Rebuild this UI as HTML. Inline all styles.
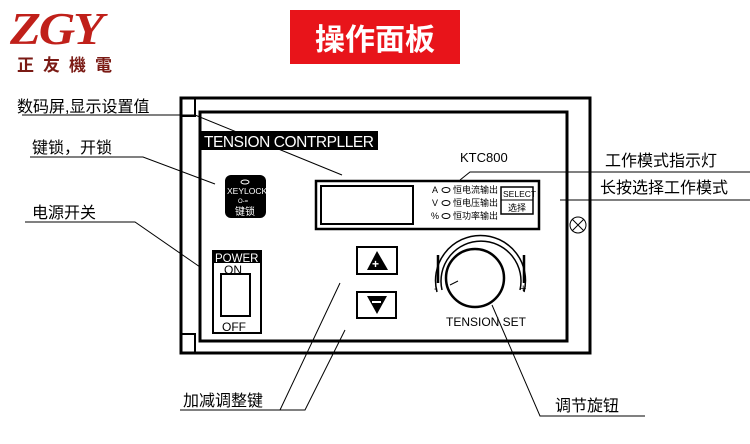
<!DOCTYPE html><html><head><meta charset="utf-8"><style>
body{margin:0;width:750px;height:444px;background:#fff;overflow:hidden;font-family:"Liberation Sans","Noto Sans CJK SC",sans-serif}
.a{position:absolute}
</style></head><body>
<div class="a" style="left:10px;top:2px;font:italic bold 46px 'Liberation Serif',serif;color:#c0201a;letter-spacing:-2px;transform:scaleX(1.1);transform-origin:left">ZGY</div>
<div class="a" style="left:17px;top:51px;font:bold 17px 'Noto Sans CJK SC',sans-serif;color:#7a1a14;letter-spacing:9px">正友機電</div>
<div class="a" style="left:290px;top:10px;width:170px;height:54px;background:#e8141a;color:#fff;font:bold 30px 'Noto Sans CJK SC',sans-serif;text-align:center;line-height:54px">操作面板</div>
<svg class="a" style="left:0;top:0" width="750" height="444" viewBox="0 0 750 444">
<g fill="none" stroke="#000">
<rect x="181" y="98" width="409" height="255" stroke-width="3"/>
<rect x="200" y="112" width="367" height="229" stroke-width="3"/>
<rect x="181" y="98" width="14" height="18" stroke-width="2"/>
<rect x="181" y="334" width="14" height="19" stroke-width="2"/>
<rect x="316" y="181" width="223" height="48" stroke-width="2.5"/>
<rect x="321" y="186" width="92" height="38" stroke-width="2"/>
<rect x="501" y="187" width="32" height="27" stroke-width="1.5"/>
<line x1="501" y1="200" x2="533" y2="200" stroke-width="1"/>
<rect x="357" y="247" width="40" height="27" stroke-width="2"/>
<rect x="357" y="292" width="39" height="26" stroke-width="2"/>
<circle cx="475" cy="278" r="29" stroke-width="2.5"/>
<path d="M442 290 A40 40 0 1 1 520 290" stroke-width="1.5"/>
<path d="M437 292 A45 45 0 1 1 524 292" stroke-width="1.5"/>
<line x1="438" y1="255" x2="438" y2="283" stroke-width="2.5"/>
<line x1="524" y1="255" x2="524" y2="283" stroke-width="2.5"/>
<line x1="450" y1="285" x2="458" y2="281" stroke-width="1"/>
<rect x="213" y="251" width="48" height="82" stroke-width="2"/>
<rect x="221" y="274" width="29" height="42" stroke-width="2"/>
<circle cx="578" cy="225" r="8" stroke-width="1"/>
<path d="M572 219l12 12M584 219l-12 12" stroke-width="1"/>
<g stroke-width="1">
<path d="M22 115H195L342 175"/>
<path d="M30 157H143L215 184"/>
<path d="M25 222H135L200 267"/>
<path d="M180 410H305L345 330M280 410L340 283"/>
<path d="M645 416H540L492 305"/>
<path d="M460 180L470 172H750"/>
<path d="M560 200H750"/>
</g></g>
<rect x="200" y="131" width="178" height="19" fill="#000"/>
<text x="204" y="147" fill="#fff" font-family="Liberation Sans" font-size="15.5" textLength="170">TENSION CONTRPLLER</text>
<text x="460" y="162" font-family="Liberation Sans" font-size="13">KTC800</text>
<g font-family="Liberation Sans,Noto Sans CJK SC,sans-serif" font-size="9">
<text x="432" y="193">A</text><text x="432" y="206">V</text><text x="431" y="219">%</text>
<text x="453" y="193">恒电流输出</text><text x="453" y="206">恒电压输出</text><text x="453" y="219">恒功率输出</text>
<text x="503" y="197" font-size="8.5">SELECT</text><text x="508" y="211">选择</text>
</g>
<g fill="none" stroke="#000"><ellipse cx="446" cy="190" rx="4" ry="2.5"/><ellipse cx="446" cy="203" rx="4" ry="2.5"/><ellipse cx="446" cy="216" rx="4" ry="2.5"/></g>
<path d="M377 251L367 270H388Z"/><path d="M367 296H387L377 314Z"/>
<text x="372" y="268" fill="#fff" font-size="12" font-weight="bold" font-family="Liberation Sans">+</text>
<rect x="372" y="301" width="9" height="2" fill="#fff"/>
<text x="434" y="292" font-size="11" font-family="Liberation Sans">-</text>
<text x="520" y="292" font-size="11" font-family="Liberation Sans">+</text>
<text x="446" y="326" font-size="12" font-family="Liberation Sans">TENSION SET</text>
<rect x="213" y="251" width="48" height="12" fill="#000"/>
<text x="215" y="262" fill="#fff" font-size="11.5" font-family="Liberation Sans">POWER</text>
<text x="224" y="274" font-size="12" font-family="Liberation Sans">ON</text>
<text x="222" y="331" font-size="12" font-family="Liberation Sans">OFF</text>
<rect x="225" y="175" width="41" height="43" rx="6" fill="#000"/>
<ellipse cx="245" cy="182" rx="4" ry="2" fill="none" stroke="#fff"/>
<text x="227" y="194" fill="#fff" font-size="8.5" font-family="Liberation Sans">XEYLOCK</text>
<text x="238" y="203" fill="#fff" font-size="6">O-=</text>
<text x="235" y="215" fill="#fff" font-size="10" font-family="Noto Sans CJK SC">键锁</text>
<g font-family="Liberation Sans,Noto Sans CJK SC,sans-serif" font-size="16">
<text x="17" y="112">数码屏,显示设置值</text>
<text x="32" y="153">键锁，开锁</text>
<text x="32" y="218">电源开关</text>
<text x="183" y="406">加减调整键</text>
<text x="555" y="411">调节旋钮</text>
<text x="605" y="166">工作模式指示灯</text>
<text x="600" y="193">长按选择工作模式</text>
</g>
</svg>
</body></html>
